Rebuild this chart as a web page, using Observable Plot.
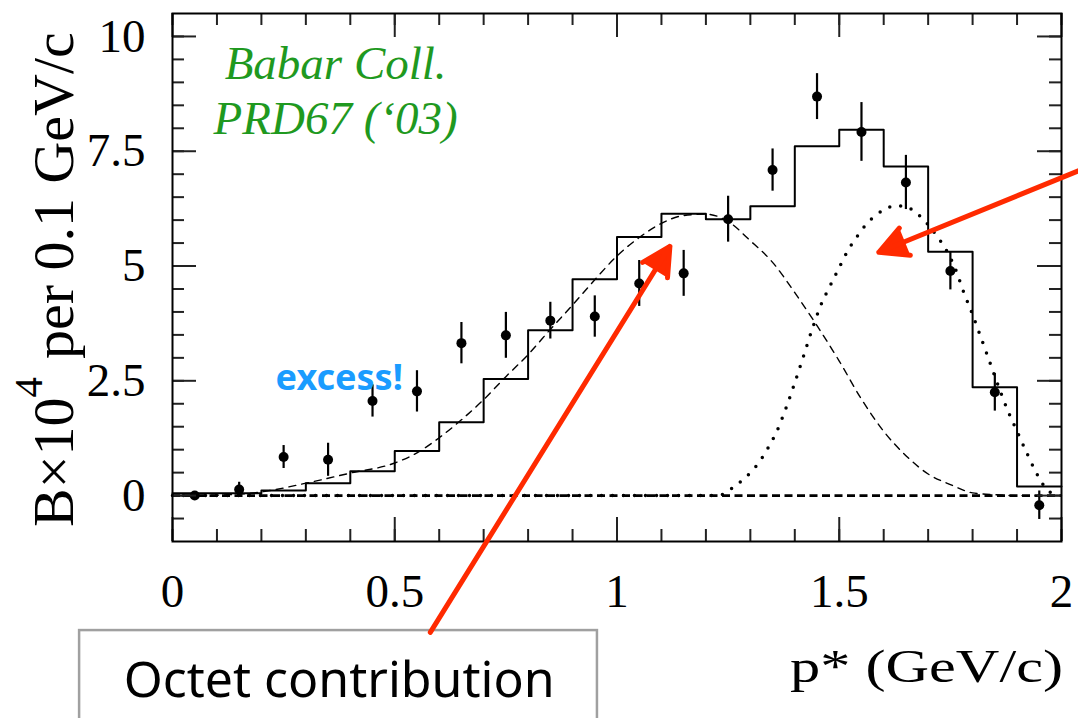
<!DOCTYPE html>
<html><head><meta charset="utf-8">
<script src="https://cdn.jsdelivr.net/npm/d3@7"></script>
<script src="https://cdn.jsdelivr.net/npm/@observablehq/plot@0.6"></script>
<style>body{margin:0;background:#fff}</style>
</head><body><div id="chart"></div>
<script>
// ---- data ----
const pX   = [0.05,0.15,0.25,0.35,0.45,0.55,0.65,0.75,0.85,0.95,1.05,1.15,1.25,1.35,1.45,1.55,1.65,1.75,1.85,1.95];
const pY   = [0.00,0.13,0.84,0.78,2.06,2.27,3.32,3.49,3.81,3.90,4.62,4.84,6.02,7.09,8.69,7.92,6.82,4.89,2.25,-0.21];
const pErr = [0.05,0.16,0.25,0.36,0.35,0.45,0.45,0.50,0.40,0.45,0.50,0.50,0.50,0.46,0.50,0.64,0.59,0.41,0.41,0.31];

const histEdges = [0,0.1,0.2,0.3,0.4,0.5,0.6,0.7,0.8,0.9,1.0,1.1,1.2,1.3,1.4,1.5,1.6,1.7,1.8,1.9];
const histVals  = [0.05,0.05,0.11,0.27,0.53,0.97,1.60,2.54,3.60,4.71,5.63,6.14,6.02,6.30,7.61,7.97,7.17,5.31,2.36,0.20];

const octetX = [0,0.1,0.2,0.3,0.4,0.5,0.55,0.6,0.65,0.7,0.75,0.8,0.85,0.9,0.95,1.0,1.05,1.1,1.15,1.2,1.25,1.3,1.35,1.4,1.45,1.5,1.55,1.6,1.65,1.7,1.75,1.8,1.85,1.9,2.0];
const octetY = [0,0.01,0.08,0.27,0.49,0.71,0.93,1.26,1.65,2.09,2.59,3.07,3.62,4.15,4.70,5.22,5.62,5.93,6.10,6.13,5.97,5.55,5.08,4.42,3.70,2.93,2.10,1.40,0.87,0.47,0.24,0.06,0.02,0,0];

const decupX = [0,1.22,1.24,1.26,1.28,1.30,1.32,1.34,1.36,1.38,1.40,1.42,1.44,1.46,1.48,1.50,1.52,1.54,1.56,1.58,1.60,1.62,1.64,1.66,1.68,1.70,1.72,1.74,1.76,1.78,1.80,1.82,1.84,1.86,1.88,1.90,1.92,1.94,1.96,1.98];
const decupY = [0,0,0.03,0.17,0.32,0.50,0.73,1.04,1.41,1.90,2.46,3.05,3.65,4.18,4.58,4.97,5.35,5.64,5.90,6.09,6.22,6.30,6.31,6.25,6.10,5.90,5.65,5.36,4.97,4.43,3.94,3.41,2.87,2.33,1.83,1.40,0.97,0.56,0.22,0.03];

const xMajor = [0,0.5,1,1.5,2];
const xMinor = d3.range(0,21).map(i => i/10);
const yMajor = [0,2.5,5,7.5,10];
const yMinor = d3.range(-1,21).map(i => i/2);

const arrows = [
  {x1:0.580, y1:-2.98, x2:1.119, y2:5.43},
  {x1:2.040, y1: 7.08, x2:1.589, y2:5.30}
];
const boxes = [{x1:-0.209, x2:0.956, y1:-2.94, y2:-5.5}];
const notes = [{x:0.375, y:-4.38, text:"Octet contribution"}];
const pubNote = [{x:0.367, y:7.886, text:"Babar Coll.\nPRD67 (\u201803)"}];
const excessNote = [{x:0.232, y:2.289, text:"excess!"}];

// ---- tables ----
const points = pX.map((x,i) => ({x, y:pY[i], e:pErr[i]}));
const hist = histEdges.map((x,i) => ({x, y:histVals[i]})).concat([{x:2.0, y:histVals[histVals.length-1]}]);
const octet = octetX.map((x,i) => ({x, y:octetY[i]}));
const decup = decupX.map((x,i) => ({x, y:decupY[i]}));

const W = 1078, H = 718, mT = 13, mL = 172, mR = 17, mB = 177;
const xDom = [0,2], yDom = [-1,10.5];
const fw = W - mL - mR, fh = H - mT - mB;
const fmt = d => String(d);
const tk = {stroke:"#222", strokeWidth:2};

const chart = Plot.plot({
  width:W, height:H,
  marginTop:mT, marginLeft:mL, marginRight:mR, marginBottom:mB,
  x:{domain:xDom, axis:null, label:null},
  y:{domain:yDom, axis:null, label:null},
  style:{fontFamily:"Liberation Serif", background:"white", color:"black", overflow:"visible"},
  marks:[
    Plot.rect(boxes, {x1:"x1", x2:"x2", y1:"y1", y2:"y2", fill:"white", stroke:"#a0a0a0", strokeWidth:2.5}),
    Plot.text(notes, {x:"x", y:"y", text:"text", fontFamily:"Noto Sans", fontSize:50, fill:"black", lineAnchor:"bottom"}),
    Plot.ruleY([0], {stroke:"black", strokeWidth:2.8, strokeDasharray:"8,4.5"}),
    Plot.line(decup, {x:"x", y:"y", curve:"monotone-x", stroke:"black", strokeWidth:3.5, strokeDasharray:"0,11", strokeLinecap:"round"}),
    Plot.line(octet, {x:"x", y:"y", curve:"monotone-x", stroke:"black", strokeWidth:1.4, strokeDasharray:"7,6"}),
    Plot.line(hist, {x:"x", y:"y", curve:"step-after", stroke:"black", strokeWidth:2}),
    Plot.ruleX(points, {x:"x", y1:d => d.y - d.e, y2:d => d.y + d.e, stroke:"black", strokeWidth:2.2}),
    Plot.dot(points, {x:"x", y:"y", r:5, fill:"black"}),
    // inward ticks on all four sides (rules inset from the frame)
    Plot.ruleX(xMinor, {...tk, insetTop: fh - 12}),
    Plot.ruleX(xMajor, {...tk, insetTop: fh - 24}),
    Plot.ruleX(xMinor, {...tk, insetBottom: fh - 12}),
    Plot.ruleX(xMajor, {...tk, insetBottom: fh - 24}),
    Plot.ruleY(yMinor, {...tk, insetRight: fw - 12}),
    Plot.ruleY(yMajor, {...tk, insetRight: fw - 24}),
    Plot.ruleY(yMinor, {...tk, insetLeft: fw - 12}),
    Plot.ruleY(yMajor, {...tk, insetLeft: fw - 24}),
    Plot.frame({stroke:"black", strokeWidth:2}),
    Plot.axisX(xMajor, {anchor:"bottom", tickSize:0, tickPadding:32, tickFormat:fmt, label:null, fontSize:47, fill:"black", fontFamily:"Liberation Serif"}),
    Plot.axisY(yMajor, {anchor:"left", tickSize:0, tickPadding:27, tickFormat:fmt, label:null, fontSize:47, fill:"black", fontFamily:"Liberation Serif"}),
    Plot.text(pubNote, {x:"x", y:"y", text:"text", fontFamily:"Liberation Serif", fontStyle:"italic", fontSize:47, lineHeight:1.17, lineAnchor:"bottom", fill:"#1f991f"}),
    Plot.text(excessNote, {x:"x", y:"y", text:"text", fontFamily:"Noto Sans", fontWeight:"bold", fontSize:36, textAnchor:"start", lineAnchor:"bottom", fill:"#1a9cff"}),
    Plot.arrow(arrows, {x1:"x1", y1:"y1", x2:"x2", y2:"y2", stroke:"#ff2a00", fill:"#ff2a00", strokeWidth:5, headLength:9.5, headAngle:55})
  ]
});

const svg = d3.select(chart);
const yl = svg.append("text")
  .attr("transform","translate(73,527) rotate(-90)")
  .attr("text-anchor","start")
  .attr("font-family","Liberation Serif").attr("font-size",58).attr("fill","black");
yl.append("tspan").text("B\u00d710");
yl.append("tspan").attr("font-size",41).attr("dy",-31).text("4");
yl.append("tspan").attr("dy",31).attr("dx",18).text("per 0.1 GeV/c");
svg.append("text")
  .attr("x",1063).attr("y",682).attr("text-anchor","end")
  .attr("font-family","Liberation Serif").attr("font-size",47).attr("fill","black")
  .attr("textLength",273).attr("lengthAdjust","spacingAndGlyphs")
  .text("p* (GeV/c)");

document.getElementById("chart").appendChild(chart);
</script>
</body></html>
